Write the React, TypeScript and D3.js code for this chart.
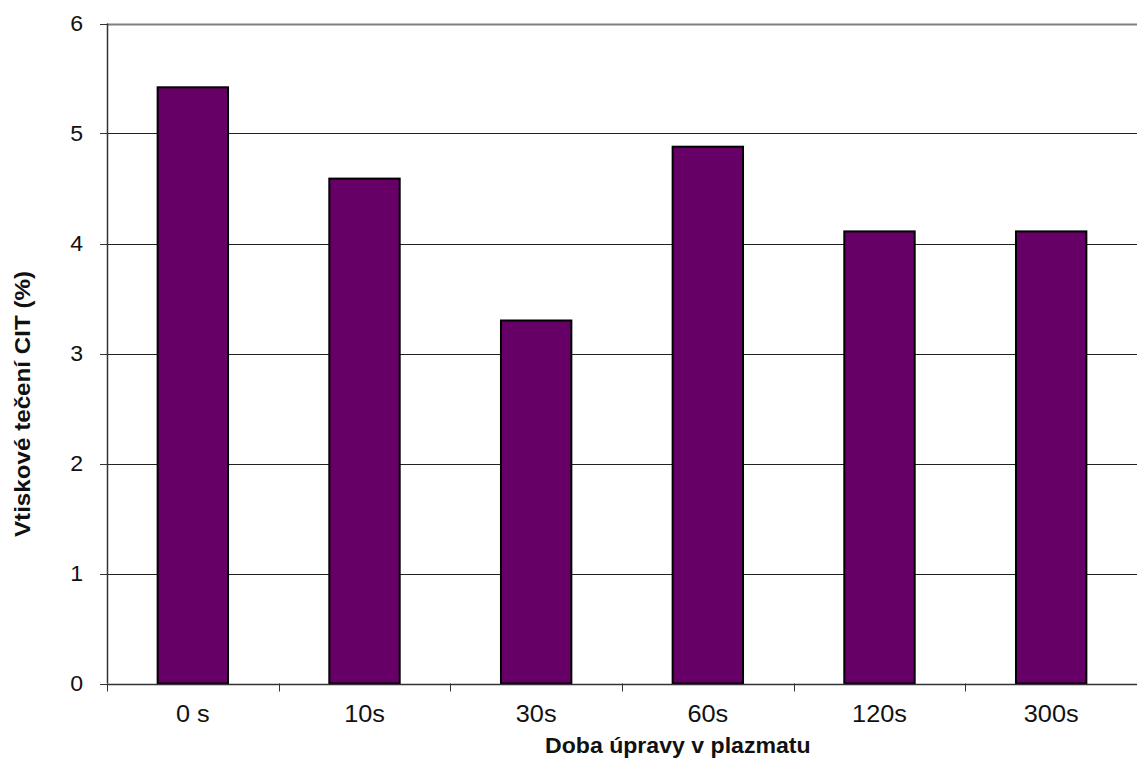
import React from "react";
import * as d3 from "d3";

// Indentation creep (CIT) after plasma treatment of different durations
const categories = ["0 s", "10s", "30s", "60s", "120s", "300s"];
const citValues = [5.42, 4.59, 3.3, 4.88, 4.11, 4.11];
const yTicks = [0, 1, 2, 3, 4, 5, 6];

const W = 1137;
const H = 760;
const M = { left: 107, right: 0, top: 23.5, bottom: 76.5 };
const FONT = "Arial, 'Liberation Sans', sans-serif";

export default function App() {
  const x = d3
    .scaleBand<string>()
    .domain(categories)
    .range([M.left, W - M.right])
    .paddingInner(0)
    .paddingOuter(0);
  const y = d3
    .scaleLinear()
    .domain([0, 6])
    .range([H - M.bottom, M.top]);

  const barW = x.bandwidth() * 0.41;
  const boundaries = categories.map((c) => x(c)!).concat([W - M.right]);

  return (
    <svg
      width={W}
      height={H}
      style={{ position: "absolute", left: 0, top: 0, background: "#fff" }}
      fontFamily={FONT}
    >
      {/* horizontal gridlines */}
      {yTicks.map((t) => (
        <line
          key={"g" + t}
          x1={M.left}
          x2={W}
          y1={Math.round(y(t)) + 0.5}
          y2={Math.round(y(t)) + 0.5}
          stroke={t === 6 ? "#808080" : "#222"}
          strokeWidth={t === 6 ? 2 : 1}
        />
      ))}
      {/* y axis ticks and labels */}
      {yTicks.map((t) => (
        <g key={"yt" + t}>
          <line
            x1={M.left - 7}
            x2={M.left}
            y1={Math.round(y(t)) + 0.5}
            y2={Math.round(y(t)) + 0.5}
            stroke="#333"
          />
          <text
            transform={`translate(83, ${y(t)}) scale(1.05, 1)`}
            dy="0.36em"
            textAnchor="end"
            fontSize={22}
            fill="#111"
          >
            {t}
          </text>
        </g>
      ))}
      {/* bars */}
      {categories.map((c, i) => {
        const cx = x(c)! + x.bandwidth() / 2;
        return (
          <rect
            key={c}
            x={cx - barW / 2}
            y={y(citValues[i])}
            width={barW}
            height={y(0) - y(citValues[i])}
            fill="#660066"
            stroke="#000"
            strokeWidth={2}
          />
        );
      })}
      {/* axes */}
      <line
        x1={M.left + 0.5}
        x2={M.left + 0.5}
        y1={M.top}
        y2={y(0)}
        stroke="#333"
        strokeWidth={1.5}
      />
      <line
        x1={M.left}
        x2={W}
        y1={Math.round(y(0)) + 0.5}
        y2={Math.round(y(0)) + 0.5}
        stroke="#333"
        strokeWidth={1.5}
      />
      {boundaries.map((b, i) => (
        <line
          key={"xt" + i}
          x1={Math.round(b) + 0.5}
          x2={Math.round(b) + 0.5}
          y1={y(0)}
          y2={y(0) + 8}
          stroke="#333"
        />
      ))}
      {categories.map((c) => (
        <text
          key={"xl" + c}
          transform={`translate(${x(c)! + x.bandwidth() / 2}, 721.5) scale(1.1, 1)`}
          textAnchor="middle"
          fontSize={23}
          fill="#111"
        >
          {c}
        </text>
      ))}
      <text
        transform="translate(545, 752.5) scale(1.05, 1)"
        textAnchor="start"
        fontSize={22}
        fontWeight="bold"
        fill="#111"
      >
        Doba úpravy v plazmatu
      </text>
      <text
        transform="translate(30, 404) rotate(-90) scale(1.1, 1)"
        textAnchor="middle"
        fontSize={22}
        fontWeight="bold"
        fill="#111"
      >
        Vtiskové  tečení CIT (%)
      </text>
    </svg>
  );
}
